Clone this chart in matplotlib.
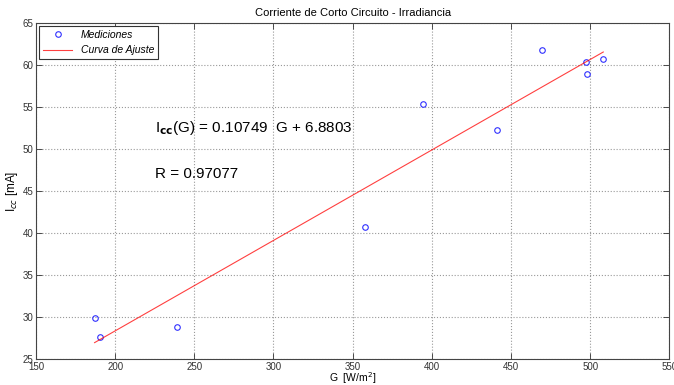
import numpy as np
import matplotlib
matplotlib.use("Agg")
import matplotlib.pyplot as plt

plt.rcParams['font.family'] = ['Liberation Sans', 'DejaVu Sans']

# --- Data ---
G = [187, 190.2, 239.2, 357.9, 394.3, 441, 469.6, 497.2, 497.8, 508.3]
Icc = [29.9, 27.7, 28.8, 40.7, 55.3, 52.2, 61.7, 60.3, 58.9, 60.7]
slope = 0.10749
intercept = 6.8803
R = 0.97077

G_fit = np.array([min(G), max(G)])
Icc_fit = slope * G_fit + intercept

# --- Plot ---
fig = plt.figure(figsize=(6.74, 3.85), dpi=100)
ax = fig.add_axes([36 / 674, 1 - 359.3 / 385, (669.3 - 36) / 674, (359.3 - 22.7) / 385])

ax.plot(G, Icc, 'o', mfc='none', mec='#3030ff', ms=4, mew=0.8, label='Mediciones')
ax.plot(G_fit, Icc_fit, color='red', lw=0.8, alpha=0.75, label='Curva de Ajuste')

ax.set_xlim(150, 550)
ax.set_ylim(25, 65)
ax.set_xticks(np.arange(150, 551, 50))
ax.set_yticks(np.arange(25, 66, 5))
ax.tick_params(direction='in', top=True, right=True, labelsize=7, length=4, width=0.6,
               colors='#333333', labelcolor='#333333', pad=2)
for s in ax.spines.values():
    s.set_color('#444444')
    s.set_linewidth(0.8)
ax.grid(True, linestyle=':', color='#999999', lw=0.8)

ax.set_title('Corriente de Corto Circuito - Irradiancia', fontsize=8, pad=5)
ax.set_xlabel('G  [W/m$^2$]', fontsize=7.5, labelpad=-1)
ax.set_ylabel('I$_{cc}$ [mA]', fontsize=8.5, labelpad=2)

ax.text(225, 52.5, r'I$_{\mathbf{cc}}$(G) = %.5f  G + %.4f' % (slope, intercept),
        fontsize=11, va='center')
ax.text(225, 47, 'R = %.5f' % R, fontsize=11, va='center')

leg = ax.legend(loc='upper left', prop={'style': 'italic', 'size': 7.5},
                fancybox=False, edgecolor='#333333', framealpha=1,
                borderaxespad=0.3, handlelength=2.8)
leg.get_frame().set_linewidth(0.8)

plt.savefig('out.png', dpi=100)
